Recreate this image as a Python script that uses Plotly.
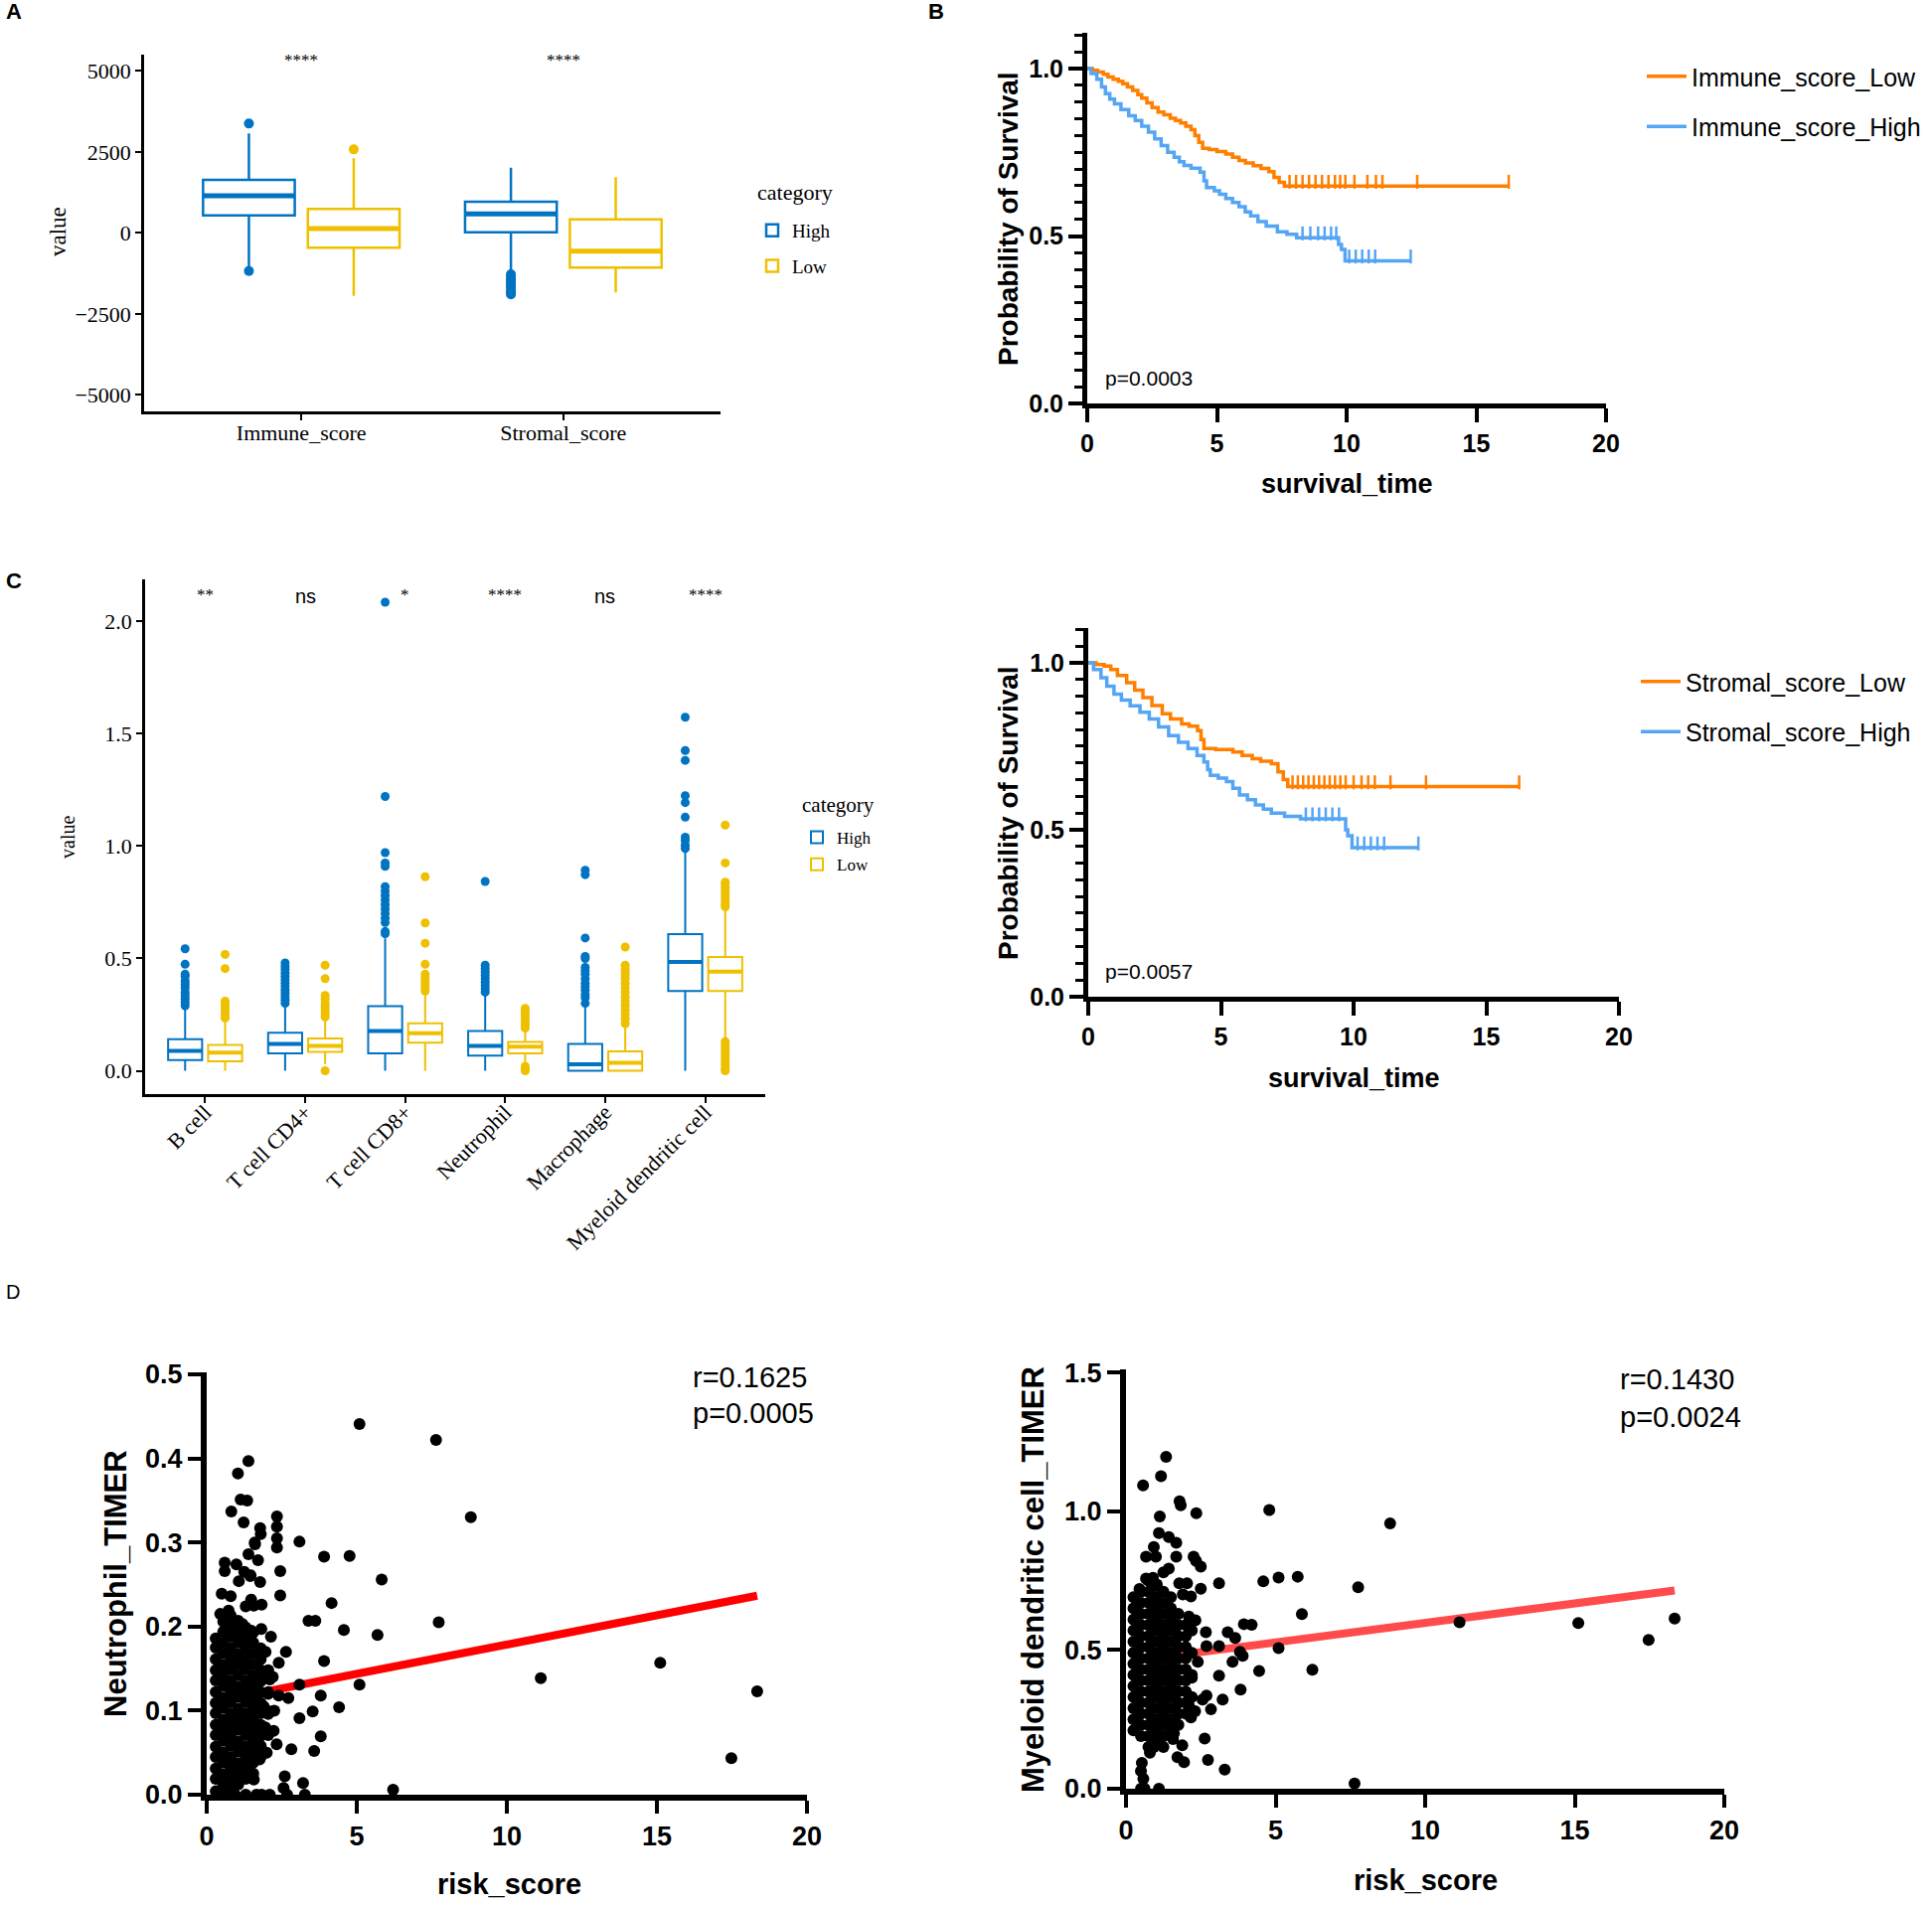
import numpy as np
import plotly.graph_objects as go

W, H = 1944, 1917
SERIF = "Liberation Serif, Times New Roman, serif"
SANS = "Liberation Sans, Arial, sans-serif"
BLUE = "#0073C2"
YELLOW = "#EFC000"
KM_ORANGE = "#FF7F00"
KM_BLUE = "#55A5F5"

# ---------------- Panel A data ----------------
a_categories = ["Immune_score", "Stromal_score"]
a_high_q1 = [542, 20]
a_high_med = [1145, 583]
a_high_q3 = [1635, 961]
a_high_lo = [-1043, -1230]
a_high_hi = [3066, 2013]
a_high_out = [[3373, -1175], [-1280, -1360, -1440, -1520, -1600, -1680, -1760, -1840, -1900]]
a_low_q1 = [-460, -1073]
a_low_med = [133, -562]
a_low_q3 = [736, 419]
a_low_lo = [-1942, -1840]
a_low_hi = [2300, 1717]
a_low_out = [[2576], []]
a_signif = ["****", "****"]

# ---------------- Panel C data ----------------
c_cells = ["B cell", "T cell CD4+", "T cell CD8+", "Neutrophil", "Macrophage", "Myeloid dendritic cell"]
c_high_q1 = [0.048, 0.077, 0.077, 0.067, 0.0, 0.355]
c_high_med = [0.088, 0.119, 0.177, 0.111, 0.029, 0.484]
c_high_q3 = [0.140, 0.169, 0.288, 0.177, 0.119, 0.608]
c_high_lo = [0.0, 0.0, 0.0, 0.0, 0.0, 0.0]
c_high_hi = [0.28, 0.30, 0.59, 0.34, 0.29, 0.98]
c_high_out = [
    [0.543, 0.474, 0.43, 0.42, 0.40, 0.385, 0.37, 0.35, 0.335, 0.32, 0.305, 0.29],
    [0.48, 0.465, 0.45, 0.435, 0.42, 0.405, 0.39, 0.375, 0.36, 0.345, 0.33, 0.315, 0.30],
    [2.086, 1.221, 0.971, 0.925, 0.91, 0.82, 0.80, 0.78, 0.76, 0.74, 0.72, 0.70, 0.68, 0.66, 0.62, 0.61],
    [0.843, 0.47, 0.455, 0.44, 0.425, 0.41, 0.395, 0.38, 0.365, 0.35],
    [0.893, 0.873, 0.591, 0.509, 0.50, 0.46, 0.445, 0.43, 0.41, 0.39, 0.375, 0.36, 0.34, 0.325, 0.30],
    [1.574, 1.426, 1.382, 1.225, 1.194, 1.129, 1.04, 1.025, 1.005, 0.99],
]
c_low_q1 = [0.042, 0.084, 0.125, 0.077, 0.0, 0.355]
c_low_med = [0.081, 0.111, 0.167, 0.107, 0.035, 0.441]
c_low_q3 = [0.115, 0.144, 0.211, 0.128, 0.086, 0.507]
c_low_lo = [0.0, 0.03, 0.0, 0.04, 0.0, 0.145]
c_low_hi = [0.22, 0.23, 0.35, 0.18, 0.20, 0.72]
c_low_out = [
    [0.518, 0.455, 0.31, 0.295, 0.28, 0.265, 0.25, 0.235],
    [0.47, 0.41, 0.335, 0.32, 0.30, 0.285, 0.27, 0.255, 0.24, 0.0],
    [0.864, 0.658, 0.568, 0.474, 0.43, 0.415, 0.40, 0.385, 0.37, 0.355],
    [0.278, 0.265, 0.25, 0.235, 0.22, 0.205, 0.19, 0.02, 0.01, 0.0],
    [0.551, 0.47, 0.455, 0.44, 0.425, 0.41, 0.39, 0.37, 0.35, 0.33, 0.31, 0.29, 0.27, 0.25, 0.23, 0.21],
    [1.094, 0.925, 0.84, 0.83, 0.815, 0.80, 0.785, 0.77, 0.755, 0.74, 0.73,
     0.13, 0.115, 0.10, 0.085, 0.07, 0.055, 0.04, 0.025, 0.01, 0.0],
]
c_signif = ["**", "ns", "*", "****", "ns", "****"]

# ---------------- Panel B data (Kaplan-Meier) ----------------
km_immune_low_t = [0.2, 0.4, 0.62, 0.8, 1.0, 1.2, 1.37, 1.55, 1.75, 1.95, 2.1, 2.3, 2.5, 2.73, 2.95, 3.2, 3.4,
                   3.6, 3.8, 4.0, 4.15, 4.3, 4.45, 4.7, 5.0, 5.34, 5.6, 5.85, 6.1, 6.4, 6.7, 7.0, 7.2, 7.4, 7.6]
km_immune_low_s = [0.995, 0.99, 0.983, 0.975, 0.968, 0.962, 0.955, 0.945, 0.935, 0.922, 0.912, 0.898, 0.884,
                   0.87, 0.862, 0.852, 0.845, 0.838, 0.828, 0.818, 0.80, 0.78, 0.762, 0.758, 0.752, 0.745,
                   0.735, 0.726, 0.718, 0.71, 0.702, 0.692, 0.675, 0.66, 0.649]
km_immune_low_end = 16.25
km_immune_low_cens = [7.8, 8.05, 8.3, 8.55, 8.8, 9.05, 9.3, 9.55, 9.75, 9.95, 10.3, 10.8, 11.13, 11.38, 12.72, 16.25]

km_immune_high_t = [0.15, 0.37, 0.55, 0.7, 0.87, 1.05, 1.3, 1.6, 1.85, 2.1, 2.36, 2.6, 2.85, 3.1, 3.35, 3.55,
                    3.73, 4.0, 4.35, 4.5, 4.6, 4.9, 5.1, 5.34, 5.6, 5.85, 6.09, 6.3, 6.58, 6.9, 7.33, 7.7,
                    8.07, 9.69, 9.8, 9.94]
km_immune_high_s = [0.985, 0.968, 0.945, 0.925, 0.909, 0.895, 0.878, 0.859, 0.845, 0.828, 0.81, 0.79, 0.77,
                    0.75, 0.735, 0.722, 0.711, 0.703, 0.691, 0.665, 0.645, 0.635, 0.625, 0.612, 0.60, 0.588,
                    0.572, 0.56, 0.543, 0.53, 0.513, 0.505, 0.495, 0.475, 0.46, 0.426]
km_immune_high_end = 12.47
km_immune_high_cens = [8.3, 8.6, 8.9, 9.15, 9.4, 9.6, 10.1, 10.35, 10.6, 10.85, 11.1, 12.47]

km_stromal_low_t = [0.3, 0.6, 0.85, 1.1, 1.45, 1.75, 2.06, 2.4, 2.79, 3.1, 3.52, 3.8, 4.12, 4.25, 4.36, 4.8,
                    5.45, 5.8, 6.18, 6.5, 6.9, 7.15, 7.35, 7.52]
km_stromal_low_s = [0.995, 0.99, 0.98, 0.962, 0.94, 0.918, 0.896, 0.872, 0.847, 0.832, 0.817, 0.81, 0.797,
                    0.77, 0.743, 0.74, 0.733, 0.722, 0.713, 0.705, 0.698, 0.673, 0.65, 0.629]
km_stromal_low_end = 16.24
km_stromal_low_cens = [7.7, 7.9, 8.1, 8.3, 8.5, 8.7, 8.9, 9.1, 9.3, 9.5, 9.7, 10.0, 10.3, 10.55, 10.8, 11.39,
                       12.73, 16.24]

km_stromal_high_t = [0.2, 0.48, 0.7, 0.97, 1.25, 1.58, 1.95, 2.3, 2.65, 3.03, 3.4, 3.76, 4.1, 4.36, 4.5, 4.6,
                     4.9, 5.21, 5.45, 5.7, 6.0, 6.3, 6.6, 6.9, 7.4, 8.0, 9.7, 9.78, 9.94]
km_stromal_high_s = [0.98, 0.955, 0.93, 0.906, 0.888, 0.871, 0.852, 0.832, 0.808, 0.782, 0.762, 0.743, 0.722,
                     0.703, 0.68, 0.663, 0.655, 0.644, 0.624, 0.604, 0.59, 0.574, 0.562, 0.55, 0.54, 0.533,
                     0.50, 0.482, 0.446]
km_stromal_high_end = 12.44
km_stromal_high_cens = [8.2, 8.45, 8.7, 8.95, 9.2, 9.45, 10.15, 10.4, 10.65, 10.9, 11.15, 12.44]

# ---------------- Panel D data ----------------
neut_sparse_x = [5.09, 7.64, 8.80, 7.73, 11.13, 15.11, 18.34, 17.48, 6.21, 5.83, 5.69, 4.76, 4.57, 5.09, 4.41,
                 4.16, 3.91, 3.91, 3.80, 3.62, 3.39, 3.53, 3.80, 3.58, 3.09, 3.09, 3.09, 3.21, 3.27, 2.82,
                 2.64, 2.72, 2.60, 2.68, 2.56, 2.34, 2.34, 2.34, 2.34, 2.45, 2.45, 2.40, 2.40, 2.33, 2.10,
                 2.14, 1.96, 1.82, 1.83, 1.78, 1.71, 1.78, 1.80, 1.61, 1.39, 1.46, 1.48, 1.57, 1.39, 1.04,
                 1.13, 1.35, 1.23, 0.82, 0.99, 0.60, 0.60, 1.07, 0.80, 0.50, 0.45, 0.73, 1.30, 1.48, 1.19,
                 1.83, 2.10, 2.23, 1.76, 1.57, 1.66, 1.83, 2.10, 1.30, 0.94, 0.60, 0.42, 1.45, 1.25, 1.60,
                 2.05, 2.20, 1.95, 2.00, 2.25, 1.90]
neut_sparse_y = [0.441, 0.422, 0.330, 0.205, 0.1385, 0.157, 0.123, 0.0435, 0.006, 0.256, 0.19, 0.284, 0.196,
                 0.131, 0.104, 0.228, 0.283, 0.159, 0.118, 0.207, 0.207, 0.099, 0.0695, 0.052, 0.301, 0.131,
                 0.091, 0.014, 0.0, 0.054, 0.170, 0.115, 0.022, 0.0, 0.008, 0.331, 0.319, 0.305, 0.294,
                 0.266, 0.237, 0.157, 0.118, 0.060, 0.137, 0.188, 0.170, 0.197, 0.226, 0.253, 0.279, 0.317,
                 0.31, 0.298, 0.286, 0.261, 0.232, 0.225, 0.397, 0.382, 0.351, 0.350, 0.324, 0.337, 0.274,
                 0.276, 0.266, 0.254, 0.236, 0.239, 0.215, 0.219, 0.224, 0.195, 0.203, 0.137, 0.099, 0.076,
                 0.042, 0.018, 0.0, 0.0, 0.0, 0.0, 0.0, 0.0, 0.0, 0.26, 0.265, 0.30, 0.12, 0.14, 0.08, 0.05,
                 0.10, 0.105]
# dense cloud read column by column (risk_score column, neutrophil values)
neut_cloud_x = [0.30, 0.55, 0.80, 1.05, 1.30, 1.55, 1.80, 2.05]
neut_cloud_y = [
    [0.004, 0.019, 0.031, 0.045, 0.057, 0.071, 0.083, 0.097, 0.109, 0.122, 0.136, 0.148, 0.161, 0.175, 0.186],
    [0.011, 0.024, 0.038, 0.050, 0.064, 0.077, 0.089, 0.103, 0.115, 0.129, 0.142, 0.154, 0.168, 0.181, 0.194, 0.206],
    [0.005, 0.018, 0.031, 0.044, 0.058, 0.070, 0.083, 0.096, 0.110, 0.122, 0.135, 0.149, 0.161, 0.174, 0.188, 0.200, 0.213],
    [0.012, 0.025, 0.037, 0.051, 0.063, 0.077, 0.090, 0.102, 0.116, 0.128, 0.142, 0.155, 0.167, 0.181, 0.193, 0.207],
    [0.019, 0.031, 0.044, 0.057, 0.071, 0.083, 0.096, 0.110, 0.122, 0.135, 0.149, 0.161, 0.174, 0.187, 0.199],
    [0.025, 0.038, 0.051, 0.064, 0.077, 0.090, 0.103, 0.116, 0.129, 0.142, 0.155, 0.168, 0.181, 0.193],
    [0.045, 0.058, 0.070, 0.083, 0.097, 0.109, 0.122, 0.135, 0.148, 0.161, 0.174],
    [0.071, 0.096, 0.122, 0.148],
]
neut_fit_x = [0.30, 18.34]
neut_fit_y = [0.111, 0.2367]
neut_stats = ["r=0.1625", "p=0.0005"]

myel_sparse_x = [1.34, 1.17, 0.57, 1.79, 1.83, 2.35, 1.13, 4.79, 8.83, 1.10, 1.43, 1.68, 0.93, 0.67, 1.00,
                 1.68, 2.26, 2.34, 2.50, 1.43, 0.67, 1.03, 1.78, 2.04, 3.11, 4.59, 5.10, 5.74, 7.76, 2.50,
                 2.17, 5.88, 2.32, 11.15, 15.12, 18.34, 17.47, 6.23, 5.10, 3.94, 4.20, 3.40, 3.65, 2.67,
                 2.69, 3.11, 3.81, 3.90, 3.56, 4.45, 2.40, 3.11, 3.83, 3.23, 2.69, 2.56, 2.84, 2.31, 2.17,
                 2.63, 1.88, 1.72, 1.94, 2.74, 3.30, 7.64, 1.10, 0.50, 0.62, 0.58, 0.50, 0.53, 0.93, 1.18,
                 1.57, 0.45, 0.35, 1.25, 1.90, 0.90, 2.10, 2.20, 2.10, 1.60, 0.80]
myel_sparse_y = [1.196, 1.126, 1.093, 1.036, 1.021, 0.993, 0.981, 1.004, 0.956, 0.921, 0.907, 0.886, 0.871,
                 0.836, 0.836, 0.836, 0.836, 0.821, 0.80, 0.793, 0.757, 0.736, 0.74, 0.74, 0.74, 0.747,
                 0.761, 0.764, 0.726, 0.721, 0.693, 0.629, 0.607, 0.60, 0.597, 0.613, 0.536, 0.429, 0.507,
                 0.593, 0.591, 0.564, 0.543, 0.564, 0.514, 0.514, 0.493, 0.479, 0.457, 0.424, 0.457, 0.407,
                 0.357, 0.321, 0.336, 0.321, 0.286, 0.279, 0.257, 0.181, 0.157, 0.114, 0.096, 0.104, 0.069,
                 0.019, 0.0, 0.0, 0.0, 0.036, 0.064, 0.093, 0.15, 0.186, 0.179, 0.72, 0.66, 0.78, 0.70,
                 0.76, 0.62, 0.40, 0.30, 0.20, 0.13]
myel_cloud_x = [0.25, 0.50, 0.75, 1.00, 1.25, 1.50, 1.75, 2.00, 2.20]
myel_cloud_y = [
    [0.21, 0.25, 0.29, 0.33, 0.37, 0.41, 0.45, 0.49, 0.53, 0.57, 0.61, 0.65, 0.69],
    [0.19, 0.23, 0.27, 0.31, 0.35, 0.39, 0.43, 0.47, 0.51, 0.55, 0.59, 0.63, 0.67, 0.71],
    [0.15, 0.19, 0.23, 0.27, 0.31, 0.35, 0.39, 0.43, 0.47, 0.51, 0.55, 0.59, 0.63, 0.67, 0.71, 0.75],
    [0.17, 0.21, 0.25, 0.29, 0.33, 0.37, 0.41, 0.45, 0.49, 0.53, 0.57, 0.61, 0.65, 0.69, 0.73],
    [0.15, 0.19, 0.23, 0.27, 0.31, 0.35, 0.39, 0.43, 0.47, 0.51, 0.55, 0.59, 0.63, 0.67, 0.71],
    [0.21, 0.25, 0.29, 0.33, 0.37, 0.41, 0.45, 0.49, 0.53, 0.57, 0.61, 0.65, 0.69],
    [0.23, 0.27, 0.31, 0.35, 0.39, 0.43, 0.47, 0.51, 0.55, 0.59, 0.63],
    [0.27, 0.31, 0.35, 0.39, 0.43, 0.47, 0.51, 0.55, 0.59],
    [0.33, 0.41, 0.49, 0.57],
]
myel_fit_x = [0.30, 18.34]
myel_fit_y = [0.4616, 0.7145]
myel_stats = ["r=0.1430", "p=0.0024"]


# ---------------- helpers ----------------
def dom_x(a, b):
    return [a / W, b / W]


def dom_y(top, bottom):
    return [1 - bottom / H, 1 - top / H]


def px(p):
    return p / W


def py(p):
    return 1 - p / H


fig = go.Figure()
annotations = []


def ann(text, x, y, size, family=SANS, bold=False, angle=0, xanchor="center", yanchor="middle"):
    annotations.append(dict(text=text, x=px(x), y=py(y), xref="paper", yref="paper", showarrow=False,
                            xanchor=xanchor, yanchor=yanchor, textangle=angle,
                            font=dict(family=family, size=size, color="black",
                                      weight="bold" if bold else "normal")))


def add_boxes(xa, ya, legend, ncat, groups, width, lw, mlw, msize):
    for name, color, q1, med, q3, lo, hi, outs, off in groups:
        xs = [i + 1 + off for i in range(ncat)]
        fig.add_trace(go.Box(x=xs, q1=q1, median=med, q3=q3, lowerfence=lo, upperfence=hi,
                             width=width, name=name, line=dict(color=color, width=lw),
                             fillcolor="white", whiskerwidth=0, boxpoints=False,
                             xaxis=xa, yaxis=ya, legend=legend, legendgroup=name, hoverinfo="skip"))
        mx, my = [], []
        for xc, m in zip(xs, med):
            mx += [xc - width / 2, xc + width / 2, None]
            my += [m, m, None]
        fig.add_trace(go.Scatter(x=mx, y=my, mode="lines", line=dict(color=color, width=mlw),
                                 xaxis=xa, yaxis=ya, showlegend=False, legendgroup=name, hoverinfo="skip"))
        ox, oy = [], []
        for xc, vals in zip(xs, outs):
            ox += [xc] * len(vals)
            oy += vals
        fig.add_trace(go.Scatter(x=ox, y=oy, mode="markers", marker=dict(color=color, size=msize),
                                 xaxis=xa, yaxis=ya, showlegend=False, legendgroup=name,
                                 cliponaxis=False, hoverinfo="skip"))


# ---------------- Panel A ----------------
add_boxes("x", "y", "legend", len(a_categories), [
    ("High", BLUE, a_high_q1, a_high_med, a_high_q3, a_high_lo, a_high_hi, a_high_out, -0.2),
    ("Low", YELLOW, a_low_q1, a_low_med, a_low_q3, a_low_lo, a_low_hi, a_low_out, 0.2),
], 0.35, 2.5, 5, 10)

# ---------------- Panel C ----------------
add_boxes("x3", "y3", "legend2", len(c_cells), [
    ("High", BLUE, c_high_q1, c_high_med, c_high_q3, c_high_lo, c_high_hi, c_high_out, -0.2),
    ("Low", YELLOW, c_low_q1, c_low_med, c_low_q3, c_low_lo, c_low_hi, c_low_out, 0.2),
], 0.34, 2, 4, 9)


# ---------------- Panel B (KM) ----------------
def add_km(xa, ya, legend, name, color, t, s, end, cens):
    xs = [0.0] + list(t) + [end]
    ys = [1.0] + list(s) + [s[-1]]
    fig.add_trace(go.Scatter(x=xs, y=ys, mode="lines", line=dict(color=color, width=3.5, shape="hv"),
                             name=name, xaxis=xa, yaxis=ya, legend=legend, legendgroup=name,
                             hoverinfo="skip"))
    tt = np.array([0.0] + list(t))
    ss = np.array([1.0] + list(s))
    idx = np.searchsorted(tt, np.array(cens), side="right") - 1
    cy = ss[idx] + 0.013
    fig.add_trace(go.Scatter(x=cens, y=cy, mode="markers",
                             marker=dict(symbol="line-ns", size=10, line=dict(color=color, width=2.5)),
                             xaxis=xa, yaxis=ya, showlegend=False, legendgroup=name, cliponaxis=False,
                             hoverinfo="skip"))


add_km("x2", "y2", "legend3", "Immune_score_Low", KM_ORANGE, km_immune_low_t, km_immune_low_s,
       km_immune_low_end, km_immune_low_cens)
add_km("x2", "y2", "legend3", "Immune_score_High", KM_BLUE, km_immune_high_t, km_immune_high_s,
       km_immune_high_end, km_immune_high_cens)
add_km("x4", "y4", "legend4", "Stromal_score_Low", KM_ORANGE, km_stromal_low_t, km_stromal_low_s,
       km_stromal_low_end, km_stromal_low_cens)
add_km("x4", "y4", "legend4", "Stromal_score_High", KM_BLUE, km_stromal_high_t, km_stromal_high_s,
       km_stromal_high_end, km_stromal_high_cens)


# ---------------- Panel D ----------------
def add_scatter(xa, ya, sx, sy, cx, cy, fx, fy, fitcolor):
    fig.add_trace(go.Scatter(x=fx, y=fy, mode="lines", line=dict(color=fitcolor, width=8),
                             xaxis=xa, yaxis=ya, showlegend=False, hoverinfo="skip"))
    xs, ys = list(sx), list(sy)
    for xc, vals in zip(cx, cy):
        xs += [xc] * len(vals)
        ys += vals
    fig.add_trace(go.Scatter(x=xs, y=ys, mode="markers", marker=dict(color="black", size=12),
                             xaxis=xa, yaxis=ya, showlegend=False, cliponaxis=False, hoverinfo="skip"))


add_scatter("x5", "y5", neut_sparse_x, neut_sparse_y, neut_cloud_x, neut_cloud_y, neut_fit_x, neut_fit_y,
            "#FF0000")
add_scatter("x6", "y6", myel_sparse_x, myel_sparse_y, myel_cloud_x, myel_cloud_y, myel_fit_x, myel_fit_y,
            "rgba(255,50,50,0.88)")

# ---------------- axes ----------------
serif_tick = dict(family=SERIF, size=22, color="black")
gg = dict(showline=True, linecolor="black", linewidth=2.5, ticks="outside", ticklen=6, tickwidth=2,
          tickcolor="black", showgrid=False, zeroline=False, fixedrange=True, automargin=False)
prism = dict(showline=True, linecolor="black", linewidth=5, ticks="outside", ticklen=14, tickwidth=4,
             tickcolor="black", showgrid=False, zeroline=False, fixedrange=True, automargin=False)
dprism = {**prism, "linewidth": 6, "ticklen": 13}
prism_font = dict(family=SANS, size=25, color="black", weight="bold")
dfont = dict(family=SANS, size=27, color="black", weight="bold")
minor_y = dict(tickmode="linear", tick0=0, dtick=0.05, ticks="outside", ticklen=8, tickwidth=3,
               tickcolor="black", showgrid=False)

layout = dict(
    width=W, height=H, margin=dict(l=0, r=0, t=0, b=0, autoexpand=False),
    paper_bgcolor="white", plot_bgcolor="white", showlegend=True,
    xaxis=dict(domain=dom_x(145, 725), anchor="y", range=[0.4, 2.6], tickmode="array",
               tickvals=[1, 2], ticktext=a_categories, tickfont=serif_tick, ticklabelstandoff=-6, **gg),
    yaxis=dict(domain=dom_y(55, 414), anchor="x", range=[-5510, 5500], tickmode="array",
               tickvals=[-5000, -2500, 0, 2500, 5000],
               ticktext=["\u22125000", "\u22122500", "0", "2500", "5000"], tickfont=serif_tick, **gg),
    xaxis3=dict(domain=dom_x(146, 770), anchor="y3", range=[0.4, 6.6], tickmode="array",
                tickvals=list(range(1, len(c_cells) + 1)), ticktext=c_cells, tickangle=-45,
                tickfont=serif_tick, ticklabelstandoff=-12, **gg),
    yaxis3=dict(domain=dom_y(583, 1101), anchor="x3", range=[-0.104, 2.188], tickmode="array",
                tickvals=[0, 0.5, 1.0, 1.5, 2.0], ticktext=["0.0", "0.5", "1.0", "1.5", "2.0"],
                tickfont=serif_tick, **gg),
    xaxis2=dict(domain=dom_x(1094, 1616), anchor="y2", range=[0, 20], tickmode="linear", tick0=0, dtick=5,
                tickfont=prism_font, **prism),
    yaxis2=dict(domain=dom_y(33, 406), anchor="x2", range=[0, 1.107], tickmode="linear", tick0=0, dtick=0.5,
                tickformat=".1f", tickfont=prism_font, minor=minor_y, **prism),
    xaxis4=dict(domain=dom_x(1095, 1629), anchor="y4", range=[0, 20], tickmode="linear", tick0=0, dtick=5,
                tickfont=prism_font, **prism),
    yaxis4=dict(domain=dom_y(632, 1003), anchor="x4", range=[0, 1.104], tickmode="linear", tick0=0, dtick=0.5,
                tickformat=".1f", tickfont=prism_font, minor=minor_y, **prism),
    xaxis5=dict(domain=dom_x(208, 812), anchor="y5", range=[0, 20], tickmode="linear", tick0=0, dtick=5,
                tickfont=dfont, **dprism),
    yaxis5=dict(domain=dom_y(1381, 1806), anchor="x5", range=[0, 0.5024], tickmode="linear", tick0=0,
                dtick=0.1, tickformat=".1f", tickfont=dfont, **dprism),
    xaxis6=dict(domain=dom_x(1133, 1735), anchor="y6", range=[0, 20], tickmode="linear", tick0=0, dtick=5,
                tickfont=dfont, **dprism),
    yaxis6=dict(domain=dom_y(1378, 1800), anchor="x6", range=[0, 1.511], tickmode="linear", tick0=0,
                dtick=0.5, tickformat=".1f", tickfont=dfont, **dprism),
    legend=dict(x=px(757), y=py(213), xanchor="left", yanchor="top", bgcolor="rgba(0,0,0,0)",
                font=dict(family=SERIF, size=19, color="black"), tracegroupgap=8),
    legend2=dict(x=px(802), y=py(825), xanchor="left", yanchor="top", bgcolor="rgba(0,0,0,0)",
                 font=dict(family=SERIF, size=17, color="black"), tracegroupgap=2),
    legend3=dict(x=px(1652), y=py(54), xanchor="left", yanchor="top", bgcolor="rgba(0,0,0,0)",
                 font=dict(family=SANS, size=25, color="black"), tracegroupgap=15, itemwidth=40),
    legend4=dict(x=px(1646), y=py(663), xanchor="left", yanchor="top", bgcolor="rgba(0,0,0,0)",
                 font=dict(family=SANS, size=25, color="black"), tracegroupgap=15, itemwidth=40),
)

# ---------------- annotations ----------------
# panel letters
ann("A", 4, 12, 22, bold=True, xanchor="left")
ann("B", 932, 12, 22, bold=True, xanchor="left")
ann("C", 4, 585, 22, bold=True, xanchor="left")
ann("D", 4, 1300, 20, bold=False, xanchor="left")

# panel A
ann("value", 58, 233, 23, family=SERIF, angle=-90)
for i, s in enumerate(a_signif):
    ann(s, 145 + (i + 1 - 0.4) / 2.2 * 580, 60, 17, family=SERIF)
ann("category", 760, 194, 22, family=SERIF, xanchor="left")

# panel C
ann("value", 68, 843, 20, family=SERIF, angle=-90)
for i, s in enumerate(c_signif):
    xc = 146 + (i + 1 - 0.4) / 6.2 * 624
    if s == "ns":
        ann(s, xc, 600, 20, family=SANS)
    else:
        ann(s, xc, 598, 17, family=SERIF)
ann("category", 805, 810, 21, family=SERIF, xanchor="left")

# panel B
ann("Probability of Survival", 1014, 220, 28, bold=True, angle=-90)
ann("survival_time", 1355, 487, 27, bold=True)
ann("p=0.0003", 1110, 380, 21, xanchor="left")
ann("Probability of Survival", 1014, 818, 28, bold=True, angle=-90)
ann("survival_time", 1362, 1085, 27, bold=True)
ann("p=0.0057", 1110, 977, 21, xanchor="left")

# panel D
ann("Neutrophil_TIMER", 116, 1594, 31, bold=True, angle=-90)
ann("risk_score", 512, 1896, 29, bold=True)
ann(neut_stats[0], 695, 1386, 29, xanchor="left")
ann(neut_stats[1], 695, 1422, 29, xanchor="left")
ann("Myeloid dendritic cell_TIMER", 1039, 1590, 31, bold=True, angle=-90)
ann("risk_score", 1434, 1892, 29, bold=True)
ann(myel_stats[0], 1628, 1388, 29, xanchor="left")
ann(myel_stats[1], 1628, 1426, 29, xanchor="left")

layout["annotations"] = annotations
fig.update_layout(**layout)
fig.write_html("out.html", config={"displayModeBar": False},
               post_script="document.body.style.margin='0px';")
